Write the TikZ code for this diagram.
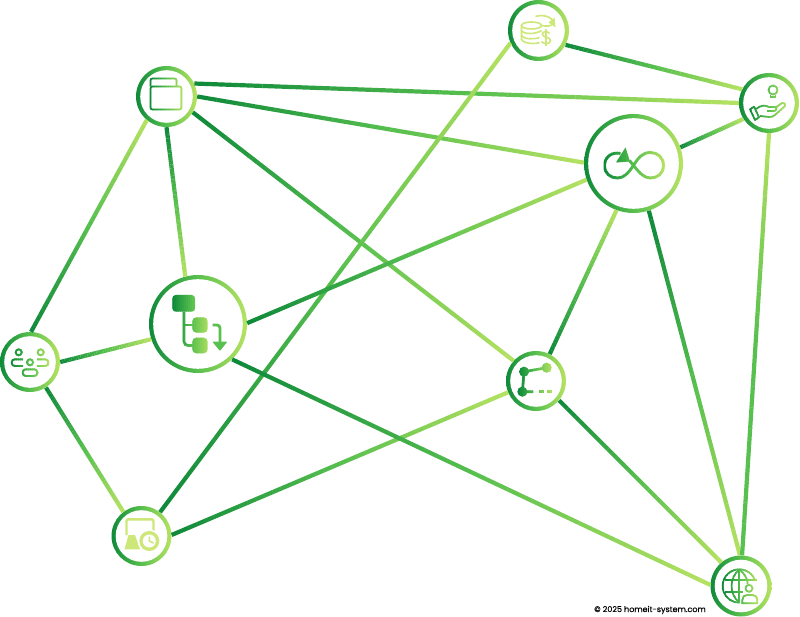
\documentclass[tikz,border=0pt]{standalone}
\usepackage{fontspec}
\newfontfamily\creditfont[FakeBold=0.3]{Poppins}
\usetikzlibrary{calc, decorations.markings}
\definecolor{linkdark}{RGB}{15, 138, 58}
\definecolor{linkmid}{RGB}{88, 192, 78}
\definecolor{linklight}{RGB}{184, 227, 98}
\definecolor{coinlight}{RGB}{205, 232, 120}

\tikzset{
  hubnode/.style={circle, inner sep=0pt, minimum size=#1,
    left color=linkdark, right color=linklight, middle color=linkmid,
    path picture={\fill[white] (path picture bounding box.center) circle ({0.5*#1-4.2pt});}},
  gradlink/.style={postaction={decorate, decoration={markings,
    mark=between positions 0 and 0.976 step 0.025 with {
      \pgfmathsetmacro{\linkpos}{\pgfkeysvalueof{/pgf/decoration/mark info/distance from start}/\pgfdecoratedpathlength*100}
      \pgfmathsetmacro{\linkmixa}{min(100,2*\linkpos)}
      \pgfmathsetmacro{\linkmixb}{max(0,2*\linkpos-100)}
      \colorlet{linkseg}{linkmid!\linkmixa!#1}
      \colorlet{linkseg}{linklight!\linkmixb!linkseg}
      \pgfmathsetlengthmacro{\linkstep}{0.0255*\pgfdecoratedpathlength}
      \fill[linkseg] (0pt,-2.1pt) rectangle (\linkstep,2.1pt);
    }}}},
  gradlink/.default=linkdark
}

% draws an icon in thin strips, so that its strokes run from dark to light
\newcommand{\gradicon}[4]{%
  \foreach \strip in {-30,-28,...,30} {
    \pgfmathsetmacro{\iconpos}{max(0,min(100,(\strip-(#2))/(#3-(#2))*100))}
    \pgfmathsetmacro{\iconmixa}{min(100,2*\iconpos)}
    \pgfmathsetmacro{\iconmixb}{max(0,2*\iconpos-100)}
    \colorlet{iconseg}{linkmid!\iconmixa!linkdark}
    \colorlet{iconseg}{linklight!\iconmixb!iconseg}
    \begin{scope}[shift={(#1)}, color=iconseg]
      \clip (\strip,-32) rectangle (\strip+2.6,32);
      #4
    \end{scope}
  }
}

\newcommand{\foldericon}{
  \draw[line width=1.8pt, rounded corners=2pt] (-16,-10) -- (-16,-18) -- (10,-18) -- (10,-10);
  \draw[line width=1.8pt, rounded corners=2pt] (-16,-10) -- (15,-10) -- (15,13) -- (-16,13) -- cycle;
}
\newcommand{\handicon}{
  \draw[line width=1.7pt] (4,-13) circle (4.5);
  \draw[line width=1.7pt] (1.5,-8) -- (1.5,-6) -- (6.5,-6) -- (6.5,-8);
  \draw[line width=1.7pt, line join=round] (-19,6.3) -- (-14,17) -- (-10,14.3) -- (-15,3.7) -- cycle;
  \draw[line width=1.7pt, line join=round] (-13,6) .. controls (-8,2) and (-4,2) .. (0,4) -- (6,4)
    .. controls (8,4) and (8,8) .. (5,8) -- (-2,8) (6,5) -- (13,0) .. controls (15,-1) and (17,1) .. (16,3)
    -- (6,12) .. controls (4,14) and (2,14) .. (0,14) -- (-9,13);
}
\newcommand{\loopicon}{
  \draw[line width=2.8pt] (-13,-10) .. controls (-22,-12) and (-29,-6) .. (-29,2)
    .. controls (-29,10) and (-23,14.5) .. (-16,14.5) .. controls (-9,14.5) and (-5,9) .. (0,2)
    .. controls (5,-6) and (9,-11) .. (17,-11) .. controls (24,-11) and (30,-6) .. (30,2)
    .. controls (30,10) and (24,14.5) .. (17,14.5) .. controls (10,14.5) and (6,9) .. (0,2) -- (-4,-3);
  \fill (-8,-16) -- (-3.5,-2) -- (-17.5,-1) -- cycle;
}
\newcommand{\flowicon}{
  \fill[rounded corners=3.5pt] (-25.7,-29) rectangle (-3,-12.3);
  \fill[rounded corners=4pt] (-5.7,-6.7) rectangle (9.7,8.7);
  \fill[rounded corners=4pt] (-5.7,13.7) rectangle (9.7,29.3);
  \draw[line width=2.6pt, rounded corners=4pt] (-14,-12.3) -- (-14,21.5) -- (-5,21.5);
  \draw[line width=2.6pt] (-14,1) -- (-5,1);
}
\newcommand{\teamicon}{
  \draw[line width=1.9pt] (-11.3,-9.7) circle (3) (10.7,-9.7) circle (3) (0,0.3) circle (3);
  \draw[line width=1.9pt, rounded corners=3pt] (-7,-2.7) -- (-18.3,-2.7) -- (-18.3,4) -- (-7,4);
  \draw[line width=1.9pt, rounded corners=3pt] (7,-2.7) -- (18.3,-2.7) -- (18.3,4) -- (7,4);
  \draw[line width=1.9pt, rounded corners=3pt] (-7.3,7.3) rectangle (7.3,14);
}
\newcommand{\branchicon}{
  \fill (-12,-9.3) circle (5) (10.7,-13.3) circle (5) (-13.7,10.7) circle (5);
  \draw[line width=2.6pt] (-12,-9.3) -- (10.7,-13.3) (-12,-9.3) -- (-13.7,10.7) -- (-2.7,10.7);
  \draw[line width=2.6pt] (3.3,10.7) -- (8,10.7) (11.3,10.7) -- (15.7,10.7);
}
\newcommand{\globeicon}{
  \draw[line width=1.7pt] (-1.7,0) ++(-20:16.7) arc (-20:-270:16.7);
  \draw[line width=1.7pt] (-1.7,-16.7) .. controls (-12,-8) and (-12,8) .. (-1.7,16.7);
  \draw[line width=1.7pt] (-1.7,-16.7) .. controls (5,-11) and (7,-5) .. (6.5,-2);
  \draw[line width=1.7pt] (-1.7,-16.7) -- (-1.7,16.7);
  \draw[line width=1.7pt] (-16,-6) -- (16,-6) (-16,6) -- (2,6);
  \draw[line width=1.7pt] (8,2.3) circle (3.5);
  \draw[line width=1.7pt] (1.3,17.3) -- (1.3,14) .. controls (1.3,11) and (3,9) .. (6,9) -- (11.6,9) .. controls (14.6,9) and (16.3,11) .. (16.3,14) -- (16.3,17.3) -- cycle;
}

\begin{document}
\begin{tikzpicture}[x=1pt, y=-1pt]
  \useasboundingbox (0,0) rectangle (800,617);

  \node[hubnode=61pt] (coins) at (538.5,30.5) {};
  \node[hubnode=60pt] (hand) at (769,103) {};
  \node[hubnode=99pt] (loop) at (633.5,163.5) {};
  \node[hubnode=61pt] (folder) at (166.5,96.5) {};
  \node[hubnode=98pt] (flow) at (198,324) {};
  \node[hubnode=60pt] (team) at (30,362) {};
  \node[hubnode=60pt] (chart) at (141.5,536) {};
  \node[hubnode=60pt] (branch) at (536,381) {};
  \node[hubnode=61pt] (globe) at (741,586) {};

  \path[gradlink] (folder.25) -- (hand.180);
  \path[gradlink] (folder.0) -- (loop.179);
  \path[gradlink] (folder.-31) -- (branch.138);
  \path[gradlink] (folder.-90) -- (flow.105);
  \path[gradlink] (team.88) -- (folder.230);
  \path[gradlink] (team.0) -- (flow.198);
  \path[gradlink] (team.-58) -- (chart.127);
  \path[gradlink] (chart.52) -- (coins.204);
  \path[gradlink] (chart.2) -- (branch.202);
  \path[gradlink] (flow.1) -- (loop.199);
  \path[gradlink] (flow.-46) -- (globe.178);
  \path[gradlink] (branch.-40) -- (globe.130);
  \path[gradlink] (branch.63) -- (loop.250);
  \path[gradlink] (loop.-72) -- (globe.92);
  \path[gradlink=linkmid] (globe.88) -- (hand.-90);
  \path[gradlink] (loop.19) -- (hand.212);
  \path[gradlink] (coins.-28) -- (hand.153);

  \gradicon{folder}{-17}{16}{\foldericon}
  \gradicon{hand}{-20}{17}{\handicon}
  \gradicon{loop}{-30}{31}{\loopicon}
  \gradicon{flow}{-26}{12}{\flowicon}
  \gradicon{team}{-19}{19}{\teamicon}
  \gradicon{branch}{-18}{16}{\branchicon}
  \gradicon{globe}{-18}{17}{\globeicon}

  % arrow beside the flow boxes
  \begin{scope}[shift={(flow)}, linkmid]
    \draw[line width=2.8pt, rounded corners=3pt] (14.7,1) -- (22,1) -- (22,19);
    \fill[rounded corners=0.8pt] (14.3,17.7) -- (29.3,17.7) -- (22,27) -- cycle;
  \end{scope}

  % coins
  \begin{scope}[shift={(coins)}, coinlight, line width=1.6pt]
    \draw (-7,-5) ellipse (10 and 3.5);
    \draw (-17,-5) -- (-17,9) .. controls (-15,13) and (-4,14) .. (1,12);
    \draw (-17,0) .. controls (-15,4) and (-3,4) .. (3,0);
    \draw (-17,5) .. controls (-15,9) and (-4,9) .. (1,7);
    \draw (-3,-14) .. controls (3,-16) and (14,-15) .. (15,-7) (3,-5) .. controls (8,-4) and (12,-4) .. (15,-7);
    \fill (16,-13) -- (17,-3) -- (10,-8) -- cycle;
    \draw (11,3) .. controls (9,0) and (3,1) .. (4,4) .. controls (5,8) and (12,6) .. (12,10) .. controls (12,14) and (5,14) .. (3,11);
    \draw (7.5,-1) -- (7.5,16);
  \end{scope}

  % chart
  \begin{scope}[shift={(chart)}, coinlight]
    \draw[line width=2.4pt, rounded corners=2pt] (-15,-1) -- (-15,-16.7) -- (12,-16.7) -- (12,-1);
    \fill (-17,13.3) -- (-1.5,13.3) -- (-6.5,-1) -- (-13,-1) -- cycle;
    \fill[white] (7.8,5) circle (11.5);
    \fill (7.8,5) circle (10);
    \fill[white] (7.8,5) circle (6.5);
    \draw[line width=1.6pt] (7.8,0.5) -- (7.8,5) -- (12,7);
  \end{scope}

  \node[font=\creditfont\fontsize{8}{9}\selectfont, text=black] (credit) at (650,610) {© 2025 homeit-system.com};
\end{tikzpicture}
\end{document}
